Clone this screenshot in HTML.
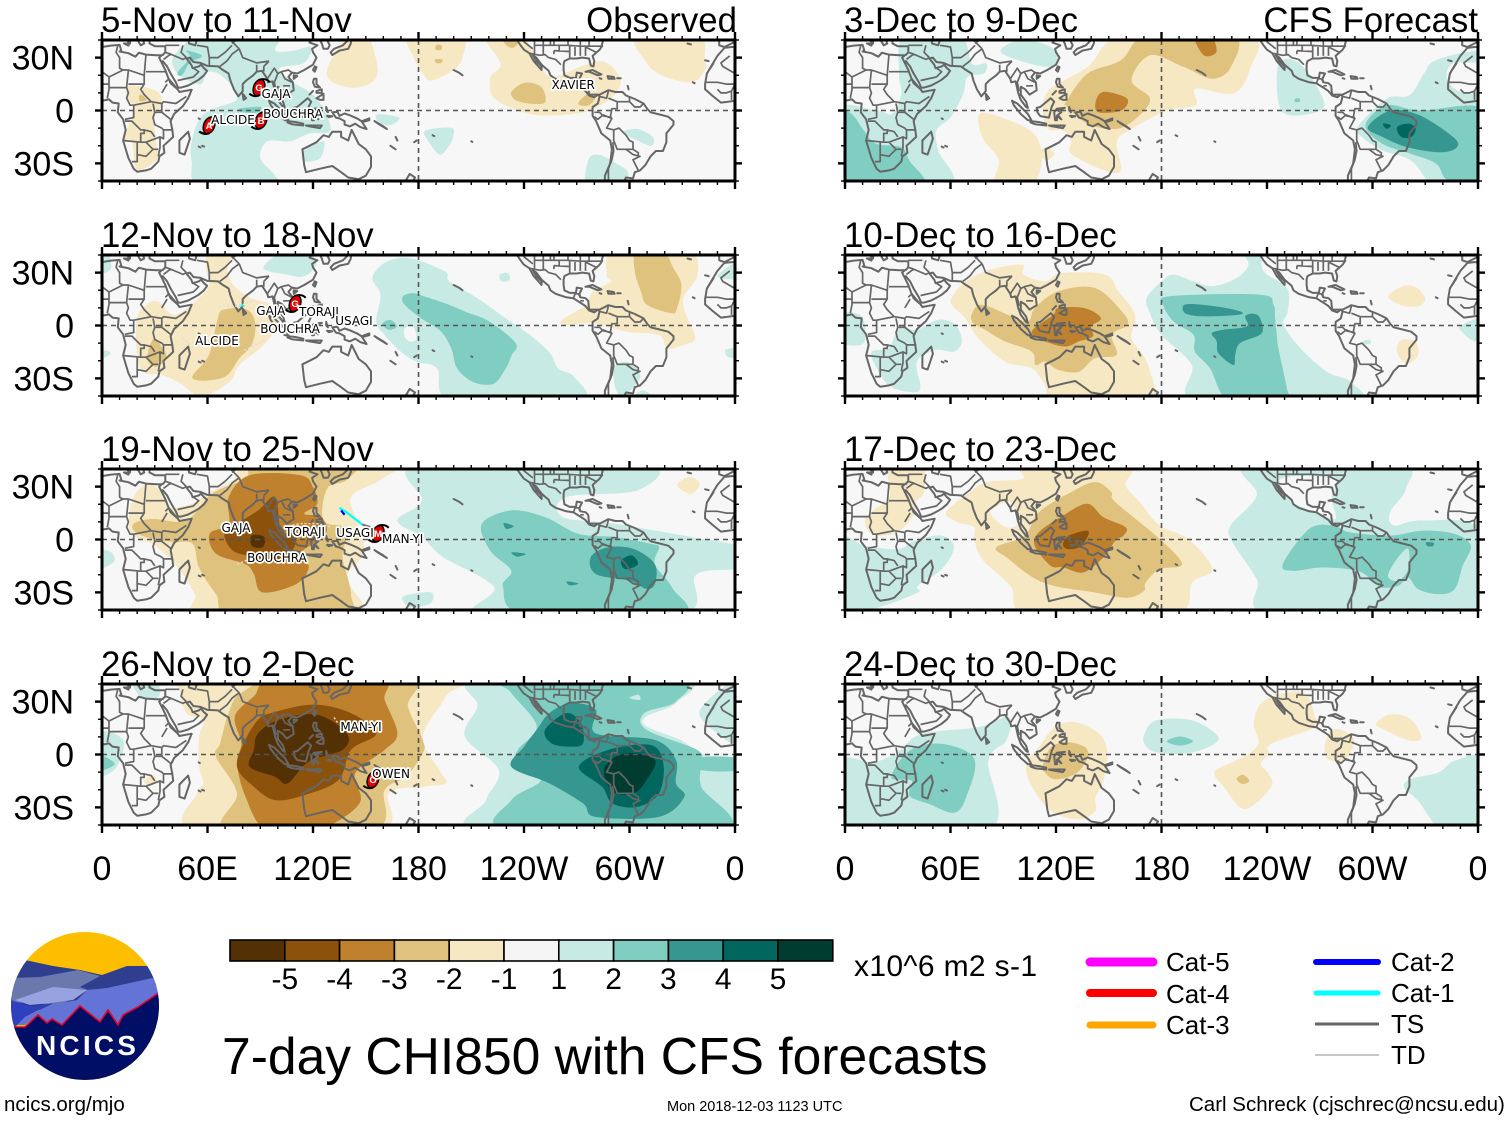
<!DOCTYPE html>
<html lang="en">
<head>
<meta charset="utf-8">
<title>7-day CHI850 with CFS forecasts</title>
<style>
html,body{margin:0;padding:0;background:#fff;width:1510px;height:1121px;overflow:hidden}
svg{display:block}
text{font-family:"Liberation Sans",sans-serif;fill:#000}
</style>
</head>
<body>
<svg id="chart" xmlns="http://www.w3.org/2000/svg" width="1510" height="1121" viewBox="0 0 1510 1121">
  <defs>
    <clipPath id="logo-clip"><circle cx="85" cy="1006" r="74"/></clipPath>
  </defs>
  <g id="panels"></g>
  <g id="colorbar"></g>

  <g clip-path="url(#logo-clip)">
    <rect x="10" y="930" width="150" height="155" fill="#fdbe00"/>
    <polygon fill="#2f3e8e" points="25,960 53,966 80,970 102,975 127,966 150,966 160,990 160,1010 10,1010 12,980"/>
    <polygon fill="#6a78ae" points="12,978 40,977 78,970 100,976 80,987 88,990 60,1005 12,1002"/>
    <polygon fill="#97a3e0" points="15,1000 53,987 87,990 73,1000 50,1003 30,1005"/>
    <polygon fill="#6473d6" points="87,990 107,988 157,977 160,1000 123,1015 118,1025 108,1010 100,1022 80,1006 62,1025 52,1020 47,1023 38,1015 25,1025 15,1025 25,1017 50,1005 77,1000"/>
    <polygon fill="#2f40be" points="10,1000 33,1007 53,1003 25,1017 15,1027 10,1020"/>
    <polygon fill="#000e66" points="10,1027 25,1027 38,1015 47,1023 52,1019 62,1025 80,1006 100,1022 108,1010 118,1025 123,1015 138,1007 160,992 160,1085 10,1085"/>
    <polyline fill="none" stroke="#e60022" stroke-width="1.6" points="13,1027 25,1027 38,1015 47,1023 52,1019 62,1025 80,1006 100,1022 108,1010 118,1025 123,1015 138,1007 160,992"/>
    <text x="36" y="1055" font-size="28" font-weight="bold" letter-spacing="3.2" style="fill:#fff">NCICS</text>
  </g>

  <text x="222" y="1074" font-size="51.6">7-day CHI850 with CFS forecasts</text>
  <text x="854" y="976" font-size="30" letter-spacing="0.35">x10^6 m2 s-1</text>
  <text x="4" y="1111" font-size="20.5">ncics.org/mjo</text>
  <text x="667" y="1111" font-size="14.5">Mon 2018-12-03 1123 UTC</text>
  <text x="1189" y="1111" font-size="20.5">Carl Schreck (cjschrec@ncsu.edu)</text>

  <g>
    <line x1="1090" x2="1153" y1="962" y2="962" stroke="#ff00ff" stroke-width="9" stroke-linecap="round"/>
    <text x="1166" y="971" font-size="26">Cat-5</text>
    <line x1="1090" x2="1153" y1="993" y2="993" stroke="#ff0000" stroke-width="8" stroke-linecap="round"/>
    <text x="1166" y="1003" font-size="26">Cat-4</text>
    <line x1="1090" x2="1153" y1="1025" y2="1025" stroke="#ffa500" stroke-width="7" stroke-linecap="round"/>
    <text x="1166" y="1034" font-size="26">Cat-3</text>
    <line x1="1316" x2="1378" y1="962" y2="962" stroke="#0000ff" stroke-width="6" stroke-linecap="round"/>
    <text x="1391" y="971" font-size="26">Cat-2</text>
    <line x1="1316" x2="1378" y1="993" y2="993" stroke="#00ffff" stroke-width="5" stroke-linecap="round"/>
    <text x="1391" y="1002" font-size="26">Cat-1</text>
    <line x1="1315" x2="1379" y1="1024" y2="1024" stroke="#666666" stroke-width="3"/>
    <text x="1391" y="1033" font-size="26">TS</text>
    <line x1="1315" x2="1379" y1="1055" y2="1055" stroke="#909090" stroke-width="1"/>
    <text x="1391" y="1064" font-size="26">TD</text>
  </g>
</svg>
<script>
/* ---------- axis labels and categories ---------- */
const panelTitles = ['5-Nov to 11-Nov','12-Nov to 18-Nov','19-Nov to 25-Nov','26-Nov to 2-Dec','3-Dec to 9-Dec','10-Dec to 16-Dec','17-Dec to 23-Dec','24-Dec to 30-Dec'];
const lonTicks = [0,60,120,180,240,300,360];
const lonTickLabels = ['0','60E','120E','180','120W','60W','0'];
const latTicks = [30,0,-30];
const latTickLabels = ['30N','0','30S'];
const colorValues = ['#543005','#8c510a','#bf812d','#dfc27d','#f6e8c3','#f5f5f5','#c7eae5','#80cdc1','#35978f','#01665e','#003c30'];
const colorbarLabels = ['-5','-4','-3','-2','-1','1','2','3','4','5'];
/* contour level key: -1..-5 dry browns, 1..5 wet teals, 0 neutral */
const contourFill = {'-5':'#543005','-4':'#8c510a','-3':'#bf812d','-2':'#dfc27d','-1':'#f6e8c3','0':'#f7f7f7','1':'#c7eae5','2':'#80cdc1','3':'#35978f','4':'#01665e','5':'#003c30'};

/* ---------- filled contours: [level, [[lon,lat],...]] ---------- */
const contours5Nov = [
 [1,[[44,20],[40,29],[48,39],[48,43],[97.5,43],[98.5,34],[109,34],[119,36],[115,27],[101,24],[107,17],[122,7],[130,-11],[118,-13],[107,-17.5],[94,-17.5],[90,-27],[98,-36.5],[99,-43],[56,-43],[51,-29],[51,-17.5],[56,-4],[65,1.5],[77,7],[69,19],[60,22],[56,15]]],
 [1,[[114.8,-23],[126,-17.4],[124,-27],[114.8,-28.8]]],
 [1,[[156.6,-2.2],[169,-4],[164,-8.3],[157.5,-7]]],
 [1,[[183.9,-11.4],[198.7,-9.9],[199.6,-15.2],[196.8,-20.9],[192,-25],[185.4,-17.1]]],
 [1,[[296.3,-12.4],[304.8,-10.5],[313.4,-15.2],[312.4,-20],[304.8,-17.1]]],
 [1,[[276.4,-28.5],[282,-25.1],[291.6,-29.5],[299.1,-35.2],[295.4,-43],[276.4,-43]]],
 [2,[[43,21.5],[50,30],[48,34],[57,31],[50,27],[45.5,20]]],
 [2,[[78.7,1.2],[90,2],[88,-1.2],[78.7,-.7]]],
 [-1,[[16,14],[31,11],[34,3.5],[30,-4],[31,-19],[32,-27],[19.8,-33.5],[17,-17.4],[12,-17.4],[16,-6],[18,2],[14,7.3]]],
 [-2,[[21.7,9.2],[25.5,6],[21.3,5.4]]],
 [-1,[[141,43],[151,43],[156.6,20.6],[145,13],[130,16.8],[129,26]]],
 [-1,[[174.6,43],[204.3,43],[205,30],[199.6,22.8],[187.3,17],[182.5,21],[178,28.5]]],
 [-2,[[190,37],[193,37],[193,34.5],[190,34.5]]],
 [-2,[[189.5,29],[193.5,29],[193,27],[190,27]]],
 [-1,[[217.6,43],[238.5,43],[248,26.6],[255.5,19],[265,21.9],[274.5,25.7],[285.9,27.6],[294.4,19],[293.5,11.4],[285,3.8],[274.5,-.9],[251.7,-2.9],[236.6,0],[222.4,7.6],[221,19],[226.7,26.6]]],
 [-2,[[232.8,10.4],[240.4,15.8],[249.9,13.3],[252.1,4.8],[244.2,3.8],[235.6,5.7]]],
 [-2,[[270.7,3.8],[276.4,9.5],[280.2,6.6],[276.4,2.8]]],
 [-2,[[227,43],[238.5,43],[234.7,36],[230,37]]],
 [-1,[[303.9,43],[339,43],[342.8,28.5],[342.8,22.8],[335.2,16],[318.1,20],[308.6,28.5]]]
];
const contours12Nov = [
 [-1,[[60.8,42],[74.6,42],[71.2,32.6],[74.6,23],[85,15.5],[96.4,11.7],[101,2.2],[91.8,-11.1],[78,-22.5],[73.5,-31],[62,-38.7],[55,-40.5],[44.8,-33],[34.4,-28.2],[21.8,-24.4],[19.5,2.2],[25.3,11.7],[32.1,13.6],[41.3,6],[55,15.5],[60.8,23],[59.2,32.6]]],
 [-2,[[26.4,-14],[29.8,-7.3],[34.4,-13],[36.7,-18.7],[31,-23.4],[26.4,-20.6]]],
 [-2,[[51.7,-28.2],[60.8,-16.8],[65.4,2.2],[68.9,8.9],[82.7,8.9],[87.2,.3],[85,-11.1],[78,-18.7],[71.2,-28.2],[62,-31],[54,-31]]],
 [1,[[91.8,32.6],[103.3,42],[117,42],[121.7,34.5],[114.8,27.9],[105.6,28.8]]],
 [1,[[-3,42],[3,42],[5,32],[-3,30]]],
 [1,[[-3,-14],[4.6,-15],[2,-18],[-3,-18]]],
 [1,[[153.8,26.9],[160.7,35.5],[174.5,38.3],[195,30.7],[197.5,25],[213.5,15.5],[229.6,4.1],[243.4,-5.4],[254.9,-15.8],[259.4,-24.4],[268.6,-29.2],[271,-43],[199.8,-43],[190.6,-24.4],[179,-20.6],[170,-14.9],[160.7,-5.4],[156,2.2],[158.4,17.4]]],
 [0,[[172.2,-1.6],[176.8,-.6],[179,-7.3],[175.6,-9.2],[172.2,-6.4]]],
 [2,[[171,16.4],[176.8,18.4],[183.7,16.4],[195,12.6],[206.6,7.9],[220.4,2.2],[235.3,-10.1],[233,-16.8],[229.6,-24.4],[222.7,-33],[211.2,-32.1],[202,-24.4],[198.6,-13],[192.9,-3.5],[181.4,4.1],[172.2,11.7]]],
 [2,[[159.6,1.2],[164.2,3.1],[167.6,-.6],[163,-2.5]]],
 [1,[[226.2,28.8],[230.7,29.8],[231.9,26],[227.3,25]]],
 [1,[[291.6,-23.5],[298.5,-20.6],[305.4,-26.3],[305.4,-31],[298.5,-38.7],[295,-40.5],[291.6,-34]]],
 [1,[[300.8,-43],[307.7,-36.8],[314.5,-43]]],
 [1,[[354.7,-13.8],[362,-13],[362,-18],[355.9,-17.8]]],
 [1,[[350,27.9],[362,36.4],[362,26.9]]],
 [-1,[[287,28.8],[291.6,42],[333,42],[338.7,28.8],[330.6,15.5],[333,4.1],[337.5,-7.3],[330.6,-11.1],[321.4,-13],[316.8,-5.4],[298.5,-3.5],[279,1.2],[264,.3],[261.7,3.2],[275.4,11.7],[279,19.3],[289.4,24.9]]],
 [-2,[[303,30.7],[304,42],[319,42],[324.9,32.6],[329.5,23],[327,9.8],[323.7,7],[310,11.7],[306.5,19.3]]]
];
const contours19Nov = [
 [-1,[[19,26],[26.4,31.7],[34.8,26],[38.4,18.4],[50.4,20],[60,26],[74.4,33.6],[86.4,43],[164,43],[158,33.6],[141.6,24],[146.4,7],[148.8,-8],[139,-21.5],[144,-43],[57.6,-43],[52.8,-31],[43.2,-15.8],[33.6,-6.3],[28.8,-2.5],[16.8,3.2],[15.6,14.6]]],
 [-2,[[18,9],[28.8,11.7],[48,10.8],[62.4,26],[81.6,34.5],[88.8,43],[141.6,43],[139,33.6],[128,28.8],[126,10.8],[139,7],[139,0],[136.8,-10],[141.6,-31],[136.8,-43],[74.4,-43],[64.8,-31],[55.2,-16],[51.6,-2.5],[40.8,-1.5],[28.8,.4],[19.2,4]]],
 [-3,[[84,36.5],[112.8,36.5],[120,29.8],[122.4,20.3],[115,14.6],[124.8,12.7],[127.2,3.2],[112.8,-8],[117.6,-15.8],[110.4,-25.3],[91.2,-30],[86.4,-19.6],[81.6,-14],[64.8,-8],[61.2,3.2],[72,8.9],[72,24]]],
 [-4,[[98.4,24],[102,5],[110.4,3.2],[108,-6.3],[96,-13],[86.4,-10],[74.4,-6.3],[69.6,3.2],[76.8,8.9],[88.8,16.5]]],
 [-5,[[85.2,2.3],[92.4,1.3],[91.2,-4.4],[85.2,-3.5]]],
 [1,[[181,43],[307,43],[305,28],[264,24],[262,12.7],[291,9],[336,1.3],[363,-4.4],[363,-16],[338,-20],[328,-43],[216,-43],[223,-27],[194,-10],[182,1.5],[168,10.8],[182,22]]],
 [2,[[216,8.9],[232.8,16.5],[252,12.7],[271,3.2],[292.8,1.3],[312,-2.5],[316.8,-4.4],[314.4,-14],[324,-27],[328,-43],[242,-43],[228,-27],[232.8,-17.7],[220.8,-6.3]]],
 [3,[[278,-10],[288,-4.4],[302.4,-5.4],[314.4,-14],[314.4,-25.3],[309.6,-28],[300,-23.4],[280.8,-19.6]]],
 [4,[[295.2,-12],[301.2,-9],[304.8,-14],[297.6,-16.8]]],
 [3,[[228.5,9.3],[234,7.6],[230,6]]],
 [3,[[233,-7.3],[241,-8.2],[236,-9.7]]],
 [3,[[264.5,-23.8],[271,-25],[266,-26]]],
 [1,[[-3,-6.3],[4.8,-7],[7.2,-12],[1.2,-16],[-3,-16]]],
 [1,[[172,-32],[187,-30],[187,-36],[177,-38.6],[172,-36]]],
 [-1,[[327,30.7],[334,35.5],[340,31.7],[335,26]]]
];
const contours26Nov = [
 [-1,[[48,43],[196.8,43],[195.6,33],[182.4,10],[192,-9],[195.6,-16.4],[182.4,-18.3],[163.2,-22],[156,-43],[52.8,-43],[54,-22],[57.6,-16.4],[55.2,-7],[55.2,10],[57.6,19.7],[48,23.5],[44.4,36.8]]],
 [-2,[[79.2,35],[103.2,43],[175.2,43],[174,27.3],[182.4,8.3],[182.4,.7],[172.8,-12.6],[160.8,-20.2],[153.6,-43],[72,-43],[76.8,-22],[64.8,-1.2],[67.2,6.4],[72,23.5]]],
 [-3,[[98.4,43],[158.4,43],[160.8,31],[168,12],[160.8,2.6],[144,-10.7],[146.4,-27.8],[122.4,-43],[93.6,-43],[81.6,-24],[76.8,-5],[79.2,6.4],[75.6,21.6],[86.4,33]]],
 [-4,[[96,23.5],[120,28.3],[141.6,23.5],[156,12],[141.6,2.6],[134.4,-14.5],[115.2,-23],[98.4,-25.9],[86.4,-18.3],[76.8,-7],[81.6,8.3],[88.8,19.7]]],
 [-5,[[86.4,2.6],[88.8,12],[100.8,19.7],[122.4,22.5],[139.2,12],[136.8,2.6],[117.6,-4],[105.6,-16.4],[98.4,-12.6],[84,-7]]],
 [1,[[214.8,43],[328.8,43],[326.4,29.2],[309.6,21.6],[309.6,16],[328.8,8.3],[340.8,.7],[362.4,-7],[362,-43],[216,-43],[218.4,-25.9],[225.6,-8.8],[206.4,10.2],[213.6,27.3]]],
 [1,[[340,25],[362,41],[362,8],[350,12]]],
 [2,[[230.4,43],[326.4,43],[326.4,30],[308.4,23.5],[309.6,14],[338.4,2.6],[340.8,-5],[340.8,-18.3],[352.8,-43],[231.6,-43],[232.8,-25.9],[249.6,-14.5],[235.2,-6],[236.4,2.6],[247.2,16],[232.8,35]]],
 [2,[[338.4,-2],[362,-2],[362,-8.8],[340.8,-8.8]]],
 [1,[[300,32],[305,34],[306,31]]],
 [3,[[254.4,23.5],[266.4,29.2],[280.8,25.4],[280.8,12],[314.4,8.3],[326.4,-3],[326.4,-16.4],[331.2,-24],[316.8,-35.4],[280.8,-35.4],[273.6,-27.8],[254.4,-16.4],[232.8,-7],[240,4.5],[247.2,14]]],
 [4,[[252,14],[264,23.5],[272.4,17.8],[273.6,6.4],[266.4,4.5],[255.6,6.4]]],
 [4,[[271.2,-7],[288,2.6],[312,5.4],[319.2,-5],[316.8,-22],[304.8,-29.7],[290.4,-27.8],[284.4,-18.3]]],
 [5,[[285.6,-7.8],[297.6,.7],[314.4,-3],[309.6,-14.5],[302.4,-22],[290.4,-21]]],
 [1,[[-3,12],[12,8.3],[8.4,-7],[0,-12.6],[-3,-12.6]]],
 [2,[[-3,0],[7.2,-5],[1.2,-8.8],[-3,-8.8]]],
 [1,[[16.8,43],[30,43],[32.4,33],[22.8,32]]],
 [-1,[[24,-15],[28.8,-11.7],[31.2,-15.4],[27,-18]]]
];
const contours3Dec = [
 [1,[[-5,0],[17.7,0],[27,-1.8],[32,9.6],[30.7,21],[34,43],[65,43],[72,26.7],[80.3,26.7],[79,21],[69.7,19],[67.3,9.6],[60.2,-3.7],[52,-11.3],[53,-22.7],[59,-43],[-5,-43]]],
 [1,[[88.5,34.3],[100.3,40],[116.9,36.2],[121.6,28.6],[114.5,24.8],[95.6,29.5]]],
 [2,[[-5,-1],[3.6,-1.8],[10.7,-11.3],[17.7,-18.9],[32,-20.8],[36.6,-28.4],[43.7,-43],[-5,-43]]],
 [1,[[246.7,26.7],[258.5,26.7],[271.4,7.7],[270.3,0],[253.7,-2.8],[246.7,3.9]]],
 [2,[[256,6.7],[258.5,6.7],[258.5,4.9],[256,4.9]]],
 [1,[[291.5,-9.4],[308,6.7],[321,8.6],[329.3,21],[336,28.6],[360,34],[360,27.7],[345.8,26.7],[342.2,19],[348,11.5],[364.7,3.9],[364.7,-43],[336.3,-43],[322,-28.4],[305.7,-22.7],[293.9,-15]]],
 [2,[[296,-8.4],[308,2.9],[326.9,0],[364.7,0],[364.7,-39.8],[343.4,-39.8],[336.3,-30.3],[322,-24.6],[305.7,-18.9]]],
 [3,[[297.4,-9.4],[310.4,0],[326.9,-2.8],[345.8,-15],[348,-20.8],[338.7,-23.7],[319.8,-20.8],[305.7,-15]]],
 [4,[[314,-9.4],[321,-7.5],[324.5,-10.4],[322.2,-15],[316.3,-15]]],
 [4,[[306,-7.5],[310.4,-8.4],[308,-10.4]]],
 [-1,[[114.5,9.6],[138,24.8],[159.3,43],[230,43],[230,22.9],[220.7,9.6],[199.5,12.4],[199.5,3],[183,0],[161.7,-11.3],[154.6,-18],[157,-34],[147.5,-34],[128.7,-24.6],[128.7,-17],[124,-11.3],[114.5,-9.4]]],
 [-1,[[76.7,-1.8],[91,-4.7],[107.4,-13.2],[112,-28.4],[105,-43],[85,-43],[87.4,-28.4],[78,-15]]],
 [-1,[[114.5,-20.8],[119,-24.6],[114.5,-28.4],[111,-24]]],
 [-2,[[126.3,5.8],[138,21],[157,28.6],[172.3,43],[220.7,43],[219.5,24.8],[209,18],[192.4,24.8],[173.5,31.4],[163,17.2],[173.5,6.7],[166.4,-3.7],[154.6,-10.4],[138,-7.5],[126.3,2]]],
 [-3,[[142.8,5.8],[147.5,10.6],[160.5,6.7],[157,0],[144,-.9]]],
 [-3,[[198.3,43],[207.7,43],[211.3,33.3],[204,31.4]]]
];
const contours10Dec = [
 [-1,[[60.7,15.6],[66.4,23.2],[79.6,30.8],[100.5,34.6],[101.4,29],[113.8,25.1],[123.2,29.8],[147.9,28.9],[155.5,19.4],[165,6.1],[163,-7.2],[170.6,-18.6],[176.3,-35.7],[175.4,-43],[121.3,-43],[113.8,-33.8],[106.2,-24.3],[91,-20.5],[75.8,-7.2],[68.3,4.2],[60.7,11.8]]],
 [-2,[[72,6.1],[77.7,11.8],[94.8,5.2],[104.3,2.3],[108,9.9],[121.3,19.4],[142.2,21.3],[157.4,8],[160.8,.4],[151.7,-5.3],[154.5,-16.7],[142.2,-18.6],[133,-26.2],[121.3,-25.2],[113.8,-20.5],[108.3,-22.4],[106.2,-14.8],[91,-9],[79.6,-2.4],[73,1.3]]],
 [-3,[[106.2,-3.4],[118.4,6.1],[121.3,9.9],[136.2,9.9],[145.6,4.2],[140,-.5],[141,-6.2],[133,-9],[125.4,-12],[114,-9]]],
 [1,[[-3,6],[9.5,5.2],[10.5,-10],[-3,-9]]],
 [1,[[15.2,-14.8],[24.7,-12.9],[28.5,-5.3],[32.3,-.6],[40.9,-2.4],[53.2,3.3],[62.7,.4],[66.5,-9],[61.8,-14.8],[51.3,-13.9],[40.9,-20.5],[42.8,-35.7],[36.1,-37.6],[24.7,-33.8],[17.1,-22.4]]],
 [1,[[171.6,15.6],[180,25],[186.8,28.9],[198.2,25.1],[209.6,22.3],[222.9,27],[229.5,34.6],[225.8,43],[236,43],[238,30.8],[251.4,21.3],[251.8,8],[249.5,.4],[259,-12.9],[274,-26.2],[287.3,-31.9],[288.3,-43],[200,-43],[197.2,-22.4],[180,-5.3],[173,8]]],
 [2,[[181,11.8],[184.9,16.6],[236,17.5],[243.7,11.8],[244.6,4.2],[245.6,-5.3],[246.5,-12.9],[251.3,-35.7],[251.3,-43],[219,-43],[207.6,-24.3],[199,-14.8],[198.2,-5.3],[186.8,2.3]]],
 [3,[[192,9.9],[195.3,12.2],[211.4,10.8],[224.7,8],[223.8,6.1],[203.8,5.2],[194.4,6.5]]],
 [3,[[227.6,5.2],[232.3,6.7],[236,4.2],[237,-4.4],[224.7,-10],[221.9,-16.7],[220.9,-22.4],[212.4,-15.8],[211.4,-9],[208.6,-4.4],[215.2,-2.4],[228.5,-.5]]],
 [-1,[[309,16.6],[317.6,22.3],[325.2,21.3],[330,14.7],[325.2,10.8],[315.7,11.8]]],
 [-1,[[313.8,-12.9],[316.6,-8.2],[324.2,-9.1],[326,-16.7],[320.4,-21.5],[315.7,-18.6]]],
 [1,[[294.8,-8.7],[298.6,-8.2],[299,-10],[295.8,-10.7]]],
 [1,[[349.8,-.5],[359.4,4.2],[362,4.2],[362,-8.2],[356.5,-8.2],[351.7,-4.4]]]
];
const contours17Dec = [
 [-1,[[25.3,42],[43.6,42],[44.8,26.9],[40.2,21.2],[39,13.6],[29.8,4.1],[20.7,2.2],[13.8,4.1],[11.5,11.7],[17.2,17.4],[25.3,24]]],
 [-1,[[57.4,15.5],[71.2,26.9],[80.4,32.6],[101,34.5],[103.3,42],[159.6,42],[159.6,30.7],[167.6,21.2],[179,7.9],[195.2,.3],[209,-16.8],[197.5,-24.4],[186,-43],[105.6,-43],[94.1,-26.3],[78,-11.1],[73.5,.3],[73.5,7],[64.3,9.8]]],
 [0,[[82.7,15.5],[94,21.2],[98.7,9.8],[91.8,6.9]]],
 [-2,[[86.1,-4.4],[102.2,2.2],[110.2,15.5],[128.6,26.9],[142.4,32.6],[151.5,26.9],[153.8,21.2],[179,.3],[191.7,-14],[179,-16.8],[171,-24.4],[170,-29.2],[160.7,-33],[142.4,-30.1],[112.5,-24.4],[91.8,-10.1]]],
 [-3,[[107.9,-3.5],[110.2,4.1],[124,13.6],[137.8,20.3],[147,12.6],[159.6,7],[158.4,2.2],[153.8,-.6],[147,-10.1],[135.5,-18.7],[124,-15.8],[117,-14.9]]],
 [-4,[[124,-2.5],[127.4,2.2],[137.8,5],[137.8,1.2],[133.2,-4.4],[126.3,-5.4]]],
 [1,[[-3,-.6],[11.5,-3.5],[29.8,-5.4],[40.2,-.6],[55.1,2.2],[62,-4.4],[55.1,-16.8],[41.3,-26.3],[41.3,-30.1],[18.4,-38.7],[-3,-42]]],
 [1,[[229.6,43],[314.5,43],[319,28.8],[310,15.5],[312.2,7.9],[328.3,10.8],[362,5],[362,-43],[243.4,-43],[234.2,-22.5],[220.4,-1.6],[219.3,7.9],[234.2,25]]],
 [0,[[248,34.5],[277.8,34.5],[276.7,23],[279,11.7],[268.6,15.5],[254.9,21.2]]],
 [2,[[249,-14],[264,6],[277.8,7.9],[287,4.1],[310,2.2],[328.3,5],[346.7,3.2],[355.9,-3.5],[351.3,-14.9],[346.7,-28.2],[337.5,-31],[326,-28.2],[320.3,-21.6],[314.5,-26.3],[305.4,-27.3],[300.8,-24.4],[291.6,-17.8],[271,-15.9],[254.9,-17.8]]],
 [1,[[308.8,-20.6],[314.5,-10.2],[320.3,-5.4],[320.3,-16.8],[314.5,-23.5]]],
 [3,[[330.6,-1.6],[334.8,-2],[334,-3.9],[331,-3.5]]]
];
const contours24Dec = [
 [1,[[-3,-4.4],[16,-4.4],[29.8,1.3],[43.6,11.7],[75.8,15.5],[93,21.2],[91.8,7.9],[81.5,-3.5],[81.5,-43],[-3,-43]]],
 [2,[[26.4,-13],[36.7,2.2],[55.1,6],[73.5,-2.5],[68.9,-24.4],[62,-33],[48.2,-28.2],[36.7,-23.4],[37.9,-14.9]]],
 [-1,[[103.3,-5.4],[110.2,4.1],[119.4,15.5],[130.9,18.4],[144.6,11.7],[149.2,1.3],[147,-14.9],[142.4,-24.4],[142.4,-32],[133.2,-36.8],[117.1,-32],[105.6,-16.8]]],
 [-2,[[112.5,-6.3],[117.1,4.1],[126.3,7],[136.6,4.1],[137.8,-2.5],[130.9,-11.1],[119.4,-14],[113.7,-10.2]]],
 [1,[[170,10.8],[176.8,19.3],[197.5,19.3],[212.4,9.8],[204.3,3.1],[190.6,.3],[176.8,1.3],[171,5]]],
 [2,[[183,7.5],[190.6,10.2],[197.9,7.5],[190.6,5]]],
 [-1,[[232.4,17.4],[236.5,28.8],[248,34.5],[261.7,34.5],[267.5,21.2],[267.5,15.5],[242.2,6],[241,.3],[236.5,-5.4],[241,-11.1],[242.2,-18.7],[227.3,-31],[215.8,-18.7],[210,-10.1],[220.4,-4.4],[229.6,.3],[235.3,7]]],
 [-2,[[222.7,-14],[226.2,-11.5],[230,-14.9],[226.2,-16.8]]],
 [-1,[[273.2,7],[279,14.5],[289.3,8.9],[284.7,-2.5],[274.4,-2.5]]],
 [-1,[[302,17.4],[310,22.7],[321.4,20.3],[327.9,9.8],[321.4,7.9],[307.7,13.6]]],
 [1,[[318,-18.7],[321.4,-14],[337.5,-10.2],[346.7,-3.5],[362,-3.5],[362,-43],[339.8,-43],[326,-26.3]]]
];
const panelContours = [contours5Nov,contours12Nov,contours19Nov,contours26Nov,contours3Dec,contours10Dec,contours17Dec,contours24Dec];

/* ---------- storms: [lon,lat,name] ---------- */
const stormLabels5Nov = [[99,9.7,'GAJA'],[108.6,-1.7,'BOUCHRA'],[74.5,-5,'ALCIDE'],[268,14.8,'XAVIER']];
const stormLabels12Nov = [[96,8.5,'GAJA'],[123.4,8,'TORAJI'],[107,-1.7,'BOUCHRA'],[143.3,2.9,'USAGI'],[65.4,-8.5,'ALCIDE']];
const stormLabels19Nov = [[76.2,6.8,'GAJA'],[115.5,4.6,'TORAJI'],[143.9,4,'USAGI'],[171,.6,'MAN-YI'],[99.5,-10.3,'BOUCHRA']];
const stormLabels26Nov = [[147.3,16,'MAN-YI'],[164.4,-10.8,'OWEN']];
const panelStormLabels = [stormLabels5Nov,stormLabels12Nov,stormLabels19Nov,stormLabels26Nov,[],[],[],[]];
const stormIcons5Nov = [[89.3,13,'G'],[90.4,-5.7,'B'],[60.9,-8.5,'A']];
const stormIcons12Nov = [[109.8,12.5,'G']];
const stormIcons19Nov = [[157,3.4,'M']];
const stormIcons26Nov = [[154.1,-14.3,'O']];
const panelStormIcons = [stormIcons5Nov,stormIcons12Nov,stormIcons19Nov,stormIcons26Nov,[],[],[],[]];
/* tracks: [category colour key, [[lon,lat],...]] */
const stormTracks5Nov = [['ts',[[55,-12],[58,-13]]]];
const stormTracks12Nov = [['cat1',[[78,11],[81,11.5]]],['td',[[66.6,11],[78,11],[87,14.5]]],['td',[[81,-14],[93,-8]]],['td',[[46,-7],[52,-13]]],['cat3',[[132,6],[133,3]]]];
const stormTracks19Nov = [['cat1',[[135,18],[139,15.5],[148,8.5]]],['cat2',[[136,16.5],[138,14]]],['ts',[[148,8.5],[156,6]]],['td',[[104,7],[112,9],[122,9],[131,7]]],['td',[[77,-14],[84,-11]]]];
const stormTracks26Nov = [['td',[[132,21],[134,18]]]];
const panelStormTracks = [stormTracks5Nov,stormTracks12Nov,stormTracks19Nov,stormTracks26Nov,[],[],[],[]];
const trackColor = {cat1:'#00ffff',cat2:'#0000ff',cat3:'#e00000',ts:'#777777',td:'#dddddd'};

/* ---------- geography (lon 0-360, lat) ---------- */
const coastlines = [
 [[0,36],[5,36.8],[10,37.2],[11,34],[10,33.5],[15,32.5],[19,30.5],[21,32.8],[25,31.7],[31,31.3],[34,31.3],[32.5,30],[34,27],[36,23],[37.5,19],[39,15.5],[43,12],[44,10.5],[51,11.8],[49,7],[46,2.5],[41,-2],[39,-6],[40,-11],[40.5,-15],[35,-20],[35.5,-24],[32.7,-26],[32,-29],[28,-33],[25,-34],[20,-34.8],[18,-33],[15,-27],[12,-17],[13.5,-11],[12,-5],[9,-1],[9.5,4],[6,4.5],[4,6.3],[0,5.5],[-3,5]],
 [[360,5.5],[356,5],[352,4.5],[347,8.5],[343,12],[343,15],[344,21],[347,26],[350,31],[354,35.5],[358,36],[360,36]],
 [[354,36],[351,37],[351,43]],[[360,39],[358,38],[354,36]],[[0,39],[3,42],[5,43]],
 [[8,44],[11,43],[16,38],[16,40],[18,40],[14,43]],[[12.5,38],[15.5,38],[15,36.8],[12.5,38]],
 [[19,42],[22,37],[24,38],[23,41],[27,41]],[[27,38],[30,36.5],[36,36.5],[36,33],[34.5,31.5]],[[27,38],[27,41]],
 [[49,43],[49.5,38],[53,37],[54,40],[51,43]],
 [[34.5,28],[37,25],[39,21],[42,16],[43.3,13],[45,13],[49,14.2],[52.5,16],[55,17.5],[58,20],[59.8,22.5],[58,24],[56.3,26],[55,25],[51.5,24],[50.8,26],[48,29.5],[50,30],[52,27.5],[56,27],[60,25.3],[66,25],[68,23.5],[72,21],[73,17],[75,12],[77.5,8],[80,11],[80,15],[82,17],[86,20],[88,22],[91,22.5],[94,18],[94.5,16],[97,16.5],[98.5,10],[100,6],[103,2],[104,1.5],[103,5],[100,9],[100,13.5],[102.5,12],[105,9],[109,11.5],[108.5,16],[106,19],[108,21.5],[111,21],[115,23],[120,26],[122,30],[120,33],[119.5,35],[122.5,37],[118,38.5],[120,41],[124,40],[125,38],[126,35],[128.5,35],[129.5,37],[128,40],[130,43]],
 [[130,33],[131,31.5],[135,34],[140,35],[141.5,38],[142,43]],[[130,33],[132,35],[137,37],[140,40],[140,43]],
 [[121,25],[120,23],[121,22],[122,24.5],[121,25]],[[109,20],[111,19.5],[109,18],[109,20]],
 [[120.5,18],[122,18],[122,15],[124,13],[121,13.5],[120,16],[120.5,18]],[[122,7],[126,9.5],[126,6],[124,6],[122,7]],[[122,11],[125,12],[125,10],[122,10],[122,11]],[[118,9],[120,11]],
 [[95,5.5],[98,4],[104,-2],[106,-5.5],[104,-5.5],[100,-2],[96,3],[95,5.5]],
 [[105.5,-6],[110,-6.5],[114.5,-7.5],[114.5,-8.5],[108,-7.8],[105.5,-6.8],[105.5,-6]],
 [[109,1.5],[111,2],[114,4.5],[117,7],[119,5],[117.5,2],[116,-4],[111,-3.2],[109.5,-1],[109,1.5]],
 [[119.5,-5.5],[119,-1],[120.5,1],[125,1.5],[121,0],[123,-1],[121,-2.5],[123,-5],[120.5,-3],[120.5,-5.5],[119.5,-5.5]],
 [[116,-8.5],[120,-8.5],[125,-8.5],[124,-10],[118,-9],[116,-8.5]],[[127.5,2],[128.5,-1],[127.5,0],[127.5,2]],[[128,-3],[131,-3.3],[129,-3.8],[128,-3]],
 [[131,-1],[134,-.8],[135,-3],[138,-1.7],[141,-2.7],[145,-4.5],[147.5,-6],[150.5,-10.5],[147,-9.5],[144,-7.5],[141,-9],[138,-8],[138,-6],[135,-4.5],[133,-4],[132,-2.5],[131,-1]],
 [[148,-6],[152,-4.5],[152,-5.5],[149,-6.3],[148,-6]],[[155,-6],[160,-9],[162,-10.5],[157,-7.5],[155,-6]],
 [[167,-15],[168,-17]],[[164,-20],[167,-22]],[[177.5,-18],[179,-17]],[[172,-41],[175,-36],[178,-38],[175,-43]],[[200,23],[203,21.5],[205,20]],[[188,-14],[189,-14.5]],[[210,-17.5],[210.6,-17.8]],
 [[55,-20.5],[56,-21]],[[57,-20],[58,-20.5]],[[55,-4.5],[55.6,-4.8]],
 [[114,-22],[118,-20],[122,-18],[126,-14],[129,-15],[131,-12],[136,-12],[136,-15],[140,-17],[142,-11],[146,-19],[150,-22],[153,-26],[153,-32],[150,-37],[146,-39],[140,-38],[136,-35],[131,-31.5],[124,-33],[116,-35],[115,-31],[114,-22]],
 [[49,-12],[50,-16],[47,-25],[44,-24],[44,-17],[49,-12]],[[80,9.5],[82,7],[80.5,6],[80,9.5]],
 [[235,43],[236,40],[238,37],[240,34.5],[243,32.5],[245.5,28],[250,23],[250,25],[247,28],[245,31.5],[247,30],[250,26],[254,22.5],[255,20],[258,18],[264,16],[268,15.5],[272,13],[275,11],[277,8.5],[280,7.5],[282,9],[283,8],[282,4],[279,2],[279,-3],[281,-6],[284,-13],[289,-17],[290,-22],[289,-30],[286,-37],[286,-43]],
 [[295,-43],[297,-40],[298,-38],[302,-38.5],[303,-35],[306,-34],[309,-31],[312,-26],[315,-23],[319,-23],[321,-18],[321,-13],[325,-8],[325,-6],[322,-3.5],[316,-2],[312,-1],[310,1],[308,4],[303,6.5],[298,8.5],[296,10.5],[292,10.5],[288,11.5],[285,10],[283,9],[277,9],[276.5,14],[275,15.5],[272,16],[271.5,18],[273,21],[270,21.5],[269.5,18.5],[266,18.5],[263,20],[262.5,23],[262.5,26],[263,28],[266,29.5],[270,29.5],[273,30],[277,29.5],[278,25.5],[279.5,25],[280,28],[279,31],[283,34.5],[284,36],[285,40],[290,42]],
 [[275,22],[279,23],[284,20.5],[282,20],[277,22],[275,22]],[[287.5,19.5],[291,19],[291.5,18],[288,18],[287.5,19.5]],[[293,18.3],[295,18.3]],[[283,18.3],[284,18]],[[299,14],[299.5,12]],
 [[343,28.5],[345,28]],[[333,38],[335,37.5]],[[336,16],[337,15.5]]
];
const borders = [
 [[9,37],[8,33],[10,30],[10,24],[12,23],[15,23],[24,20],[25,32]],[[25,22],[36.8,22]],[[24,20],[24,15],[22,12],[24,9],[28,5],[34,4],[35,5],[42,4],[48,8]],
 [[34,4],[34,-1],[39,-5]],[[34,-1],[30,-1],[29,-4],[30,-8],[34,-10],[35,-11],[40.5,-11]],[[15,23],[14,13],[15,10],[14,7],[16,3],[18,3],[18,-4],[13,-5]],
 [[13,-6],[17,-6],[22,-11],[24,-11],[24,-13],[22,-13],[22,-18],[12,-17]],[[22,-18],[25,-18],[33,-15],[35,-16],[35,-11]],[[30,-15],[28,-12],[24,-11]],[[33,-15],[33,-21],[32,-26]],
 [[25,-18],[29,-22],[32,-22]],[[20,-18],[20,-29],[17,-29]],[[20,-25],[25,-26],[29,-22]],[[0,15],[4,15],[4,19],[12,23]],[[4,15],[4,12],[3,7]],[[14,13],[4,13]],[[24,15],[15,15]],[[29,4],[30,-1]],[[18,3],[28,5]],[[36,16],[38,18],[43,12]],[[34,10],[37,15]],[[0,22],[4,19]],
 [[360,15],[355,15],[350,16],[343,16]],[[360,21],[353,25],[352,27],[357,31]],[[358,11],[355,10],[352,10],[350,12]],[[358,6],[358,11],[360,15]],[[344,21],[348,27]],
 [[35,29],[39,32],[46,29],[48,30]],[[39,32],[36,33]],[[46,37],[45,33],[48,30]],[[44,37],[36,37]],[[52,19],[55,22],[52,24]],[[43,17],[52,19]],[[61,25],[61,30],[60,36],[54,37]],[[61,30],[66,30],[70,33],[74,37]],[[67,25],[71,28],[74,32],[78,35]],[[78,35],[80,30],[88,27],[95,28]],[[88,22],[88,26]],[[92,25],[95,28]],[[92,22],[92,25]],[[94,18],[98,24],[100,21],[102,22],[106,23],[108,21.5]],[[100,21],[98,16],[99,11]],[[102,22],[104,18],[108,16]],[[103,14],[107,14]],[[78,35],[73,40]],[[80,43],[74,38]],
 [[243,32.5],[249,31.3],[252,31.7],[254,30],[258,29],[261,26]],[[268,15],[269,18],[271,18]],[[271,18],[272,16]],[[274,14],[272,14]],[[283,8],[287,7],[288,11]],[[288,7],[293,5],[293,1],[290,1],[289,-4]],[[280,-1],[283,-1],[285,-3],[290,-4]],[[280,-3.5],[282,-5],[285,-2.5],[290,-4.5],[287,-10],[291,-11],[294,-10],[298,-14],[300,-17],[302,-18],[302,-22],[305,-24],[305,-26]],[[291,-11],[291,-17],[293,-22],[296,-22],[302,-22]],[[290.5,-18],[291,-23],[290,-28],[288,-33],[288,-43]],[[294,-22],[298,-22],[302,-25],[306,-26],[302,-28],[303,-30],[305,-34]],[[293,5],[300,5],[303,2],[306,2],[308,4]],[[300,8],[300,5]],
 [[249,41],[256,41]],[[246,37],[265,37]],[[265,37],[272,36.5],[278,36.5],[285,36.5]],[[240,43],[240,39],[245,35]],[[246,43],[246,32]],[[251,43],[251,31.5]],[[257,37],[257,43]],[[257,34],[257,32]],[[260,37],[260,34]],[[266,37],[266,30]],[[269,37],[269,31]],[[272,36],[272,31]],[[275,36],[275,31]],[[262,40],[265,40]],[[265,40],[265,37]],[[257,34],[266,33.5]],[[275,36],[281,33]],[[272,40],[272,36]],[[277,40],[277,36]],[[255,43],[255,37]]
];

/* ---------- axis functions ---------- */
const NS = 'http://www.w3.org/2000/svg';
const PANEL_W = 633, PANEL_H = 141, LAT_MAX = 40;
function xAxis(left, lon){ return left + lon / 360 * PANEL_W; }
function yAxis(top, lat){ return top + (LAT_MAX - lat) / (2 * LAT_MAX) * PANEL_H; }
function mk(parent, tag, attrs){
  const el = document.createElementNS(NS, tag);
  for (const k in attrs) el.setAttribute(k, attrs[k]);
  parent.appendChild(el);
  return el;
}
function smoothClosed(pts){
  const n = pts.length;
  let d = 'M' + pts[0][0].toFixed(1) + ' ' + pts[0][1].toFixed(1);
  for (let i = 0; i < n; i++){
    const p0 = pts[(i - 1 + n) % n], p1 = pts[i], p2 = pts[(i + 1) % n], p3 = pts[(i + 2) % n];
    const c1x = p1[0] + (p2[0] - p0[0]) / 6, c1y = p1[1] + (p2[1] - p0[1]) / 6;
    const c2x = p2[0] - (p3[0] - p1[0]) / 6, c2y = p2[1] - (p3[1] - p1[1]) / 6;
    d += 'C' + c1x.toFixed(1) + ' ' + c1y.toFixed(1) + ' ' + c2x.toFixed(1) + ' ' + c2y.toFixed(1) + ' ' + p2[0].toFixed(1) + ' ' + p2[1].toFixed(1);
  }
  return d + 'Z';
}
function polyPath(lines, left, top){
  return lines.map(function(line){
    return line.map(function(p, i){
      return (i ? 'L' : 'M') + xAxis(left, p[0]).toFixed(1) + ' ' + yAxis(top, p[1]).toFixed(1);
    }).join('');
  }).join('');
}

const svg = document.getElementById('chart');
const defs = svg.querySelector('defs');
const panelsRoot = document.getElementById('panels');

panelTitles.forEach(function(title, idx){
  const col = idx < 4 ? 0 : 1;
  const row = idx % 4;
  const left = col === 0 ? 102 : 845;
  const top = Math.round(40 + row * 214.67);
  const kebab = title.toLowerCase().replace(/ /g, '-');

  const g = mk(panelsRoot, 'g', {});
  
  

  const cp = mk(defs, 'clipPath', {id: 'clip-' + idx});
  mk(cp, 'rect', {x: left, y: top, width: PANEL_W, height: PANEL_H});

  const bg = mk(g, 'rect', {x: left, y: top, width: PANEL_W, height: PANEL_H, fill: '#f7f7f7'});
  
  

  const clipped = mk(g, 'g', {'clip-path': 'url(#clip-' + idx + ')'});
  
  

  panelContours[idx].forEach(function(item){
    const pts = item[1].map(function(p){ return [xAxis(left, p[0]), yAxis(top, p[1])]; });
    const c = mk(clipped, 'path', {d: smoothClosed(pts), fill: contourFill[item[0]]});
    
    
  });

  const bd = mk(clipped, 'path', {d: polyPath(borders, left, top), fill: 'none', stroke: '#666666', 'stroke-width': 1.7, 'stroke-linejoin': 'round'});
  
  
  const cs = mk(clipped, 'path', {d: polyPath(coastlines, left, top), fill: 'none', stroke: '#666666', 'stroke-width': 2, 'stroke-linejoin': 'round', 'stroke-linecap': 'round'});
  
  

  const eq = mk(clipped, 'line', {x1: left, x2: left + PANEL_W, y1: yAxis(top, 0), y2: yAxis(top, 0), stroke: '#555555', 'stroke-width': 1.6, 'stroke-dasharray': '5 4'});
  
  
  const dl = mk(clipped, 'line', {x1: xAxis(left, 180), x2: xAxis(left, 180), y1: top, y2: top + PANEL_H, stroke: '#555555', 'stroke-width': 1.6, 'stroke-dasharray': '5 4'});
  
  

  panelStormTracks[idx].forEach(function(t){
    const tr = mk(clipped, 'path', {d: polyPath([t[1]], left, top), fill: 'none', stroke: trackColor[t[0]], 'stroke-width': t[0] === 'td' ? 1.5 : 2.2, 'stroke-dasharray': t[0] === 'td' ? '2 2' : 'none'});
    
    
  });

  const frame = mk(g, 'rect', {x: left, y: top, width: PANEL_W, height: PANEL_H, fill: 'none', stroke: '#000', 'stroke-width': 3});
  
  

  for (let lon = 0; lon <= 360; lon += 10){
    const major = lonTicks.indexOf(lon) >= 0;
    const len = major ? 7 : 3;
    const x = xAxis(left, lon);
    [[top - 1, top - 1 - len], [top + PANEL_H + 1, top + PANEL_H + 1 + len]].forEach(function(s){
      const tk = mk(g, 'line', {x1: x, x2: x, y1: s[0], y2: s[1], stroke: '#000', 'stroke-width': major ? 2.4 : 1.4});
      
      
    });
  }
  for (let lat = -40; lat <= 40; lat += 10){
    const major = latTicks.indexOf(lat) >= 0;
    const len = major ? 6 : 3;
    const y = yAxis(top, lat);
    [[left - 1, left - 1 - len], [left + PANEL_W + 1, left + PANEL_W + 1 + len]].forEach(function(s){
      const tk = mk(g, 'line', {x1: s[0], x2: s[1], y1: y, y2: y, stroke: '#000', 'stroke-width': major ? 2.4 : 1.4});
      
      
    });
  }

  const ttl = mk(g, 'text', {x: left - 1, y: top - 8, 'font-size': 34.8});
  ttl.textContent = title;
  
  

  if (idx === 0 || idx === 4){
    const side = mk(g, 'text', {x: left + PANEL_W + (idx === 0 ? 2 : 0), y: top - 8, 'font-size': 34.8, 'text-anchor': 'end'});
    side.textContent = idx === 0 ? 'Observed' : 'CFS Forecast';
    
    
  }

  if (col === 0){
    latTicks.forEach(function(lat, i){
      const t = mk(g, 'text', {x: 74, y: yAxis(top, lat) + 12, 'font-size': 34, 'text-anchor': 'end'});
      t.textContent = latTickLabels[i];
      
      
    });
  }
  if (row === 3){
    lonTicks.forEach(function(lon, i){
      const t = mk(g, 'text', {x: xAxis(left, lon), y: 880, 'font-size': 34, 'text-anchor': 'middle'});
      t.textContent = lonTickLabels[i];
      
      
    });
  }

  panelStormIcons[idx].forEach(function(s){
    const cx = xAxis(left, s[0]), cy = yAxis(top, s[1]);
    const ic = mk(g, 'g', {transform: 'translate(' + cx.toFixed(1) + ' ' + cy.toFixed(1) + ') rotate(20)'});
    
    
    mk(ic, 'ellipse', {cx: 0, cy: 0, rx: 5.5, ry: 8.5, fill: '#e00000', stroke: '#000', 'stroke-width': 1.4});
    mk(ic, 'path', {d: 'M-3 -7C2 -11 6 -10 8 -9M3 7C0 10 -4 10 -7 9', fill: 'none', stroke: '#000', 'stroke-width': 2});
    const lt = mk(ic, 'text', {x: 0, y: 3.5, 'font-size': 9.5, 'font-weight': 'bold', 'text-anchor': 'middle', transform: 'rotate(-20)', style: 'fill:#fff'});
    lt.textContent = s[2];
    
    
  });

  panelStormLabels[idx].forEach(function(s){
    const t = mk(g, 'text', {x: xAxis(left, s[0]), y: yAxis(top, s[1]) + 4.5, 'font-size': 12, 'text-anchor': 'middle', stroke: '#fff', 'stroke-width': 3.4, 'paint-order': 'stroke', 'stroke-linejoin': 'round', style: 'font-family:"DejaVu Sans",sans-serif'});
    t.textContent = s[2];
    
    
  });
});

/* ---------- colorbar ---------- */
const cbRoot = document.getElementById('colorbar');
const CB_LEFT = 230, CB_TOP = 940, CB_STEP = 54.8, CB_H = 21;
function cbX(i){ return CB_LEFT + i * CB_STEP; }
colorValues.forEach(function(col, i){
  const r = mk(cbRoot, 'rect', {x: cbX(i), y: CB_TOP, width: CB_STEP, height: CB_H, fill: col, stroke: '#000', 'stroke-width': 1.6});
  
  
});
colorbarLabels.forEach(function(lb, i){
  const t = mk(cbRoot, 'text', {x: cbX(i + 1), y: 989, 'font-size': 30, 'text-anchor': 'middle'});
  t.textContent = lb;
  
  
});
</script>
</body>
</html>
